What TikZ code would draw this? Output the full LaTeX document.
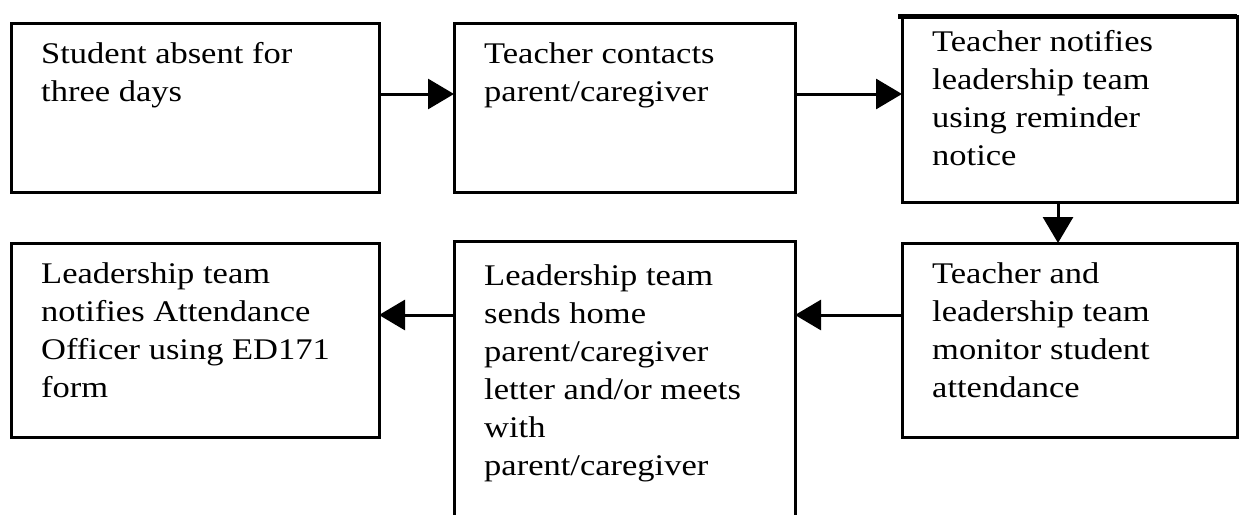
\documentclass[tikz,border=0pt]{standalone}
\usepackage{fontspec}
\setmainfont[FakeStretch=1.15]{Liberation Serif}
\usetikzlibrary{arrows.meta}

\begin{document}
\begin{tikzpicture}[x=1pt,y=-1pt,
  stepbox/.style={draw,line width=3pt,anchor=north west,inner sep=0pt,outer sep=0pt},
  txt/.style={anchor=north west,inner sep=0pt,align=left,xshift=30pt,
    font=\fontsize{30}{38}\selectfont},
  flow/.style={line width=3pt,-{Triangle[length=26pt,width=30pt]}}]
\clip (0,0) rectangle (1239,514);
\useasboundingbox (0,0) rectangle (1239,514);
% top row
\node[stepbox,minimum width=368pt,minimum height=169pt,
  label={[txt,yshift=-19pt]north west:Student absent for\\three days}] (absent) at (11,23) {};
\node[stepbox,minimum width=341pt,minimum height=169pt,
  label={[txt,yshift=-19pt]north west:Teacher contacts\\parent/caregiver}] (contact) at (454,23) {};
\node[stepbox,minimum width=335pt,minimum height=186pt,
  label={[txt,yshift=-14pt]north west:Teacher notifies\\leadership team\\using reminder\\notice}] (notify) at (902,16) {};
\draw[line width=5pt] ([xshift=-4pt]notify.north west) -- (notify.north east);
% bottom row
\node[stepbox,minimum width=368pt,minimum height=194pt,
  label={[txt,yshift=-19pt]north west:Leadership team\\notifies Attendance\\Officer using ED171\\form}] (officer) at (11,243) {};
\node[stepbox,minimum width=341pt,minimum height=300pt,
  label={[txt,yshift=-23pt]north west:Leadership team\\sends home\\parent/caregiver\\letter and/or meets\\with\\parent/caregiver}] (letter) at (454,241) {};
\node[stepbox,minimum width=335pt,minimum height=194pt,
  label={[txt,yshift=-19pt]north west:Teacher and\\leadership team\\monitor student\\attendance}] (monitor) at (902,243) {};
% arrows
\coordinate (a1) at ([yshift=13.5pt]absent.east);
\coordinate (a2) at ([yshift=13.5pt]contact.east);
\coordinate (a3) at ([xshift=-11.5pt]notify.south);
\coordinate (a4) at ([yshift=25pt]monitor.west);
\draw[flow] (a1) -- (a1 -| contact.west);
\draw[flow] (a2) -- (a2 -| notify.west);
\draw[flow] (a3) -- (a3 |- monitor.north);
\draw[flow] (a4) -- (a4 -| letter.east);
\coordinate (a5) at (a4 -| letter.west);
\draw[flow] (a5) -- (a5 -| officer.east);
\end{tikzpicture}
\end{document}
